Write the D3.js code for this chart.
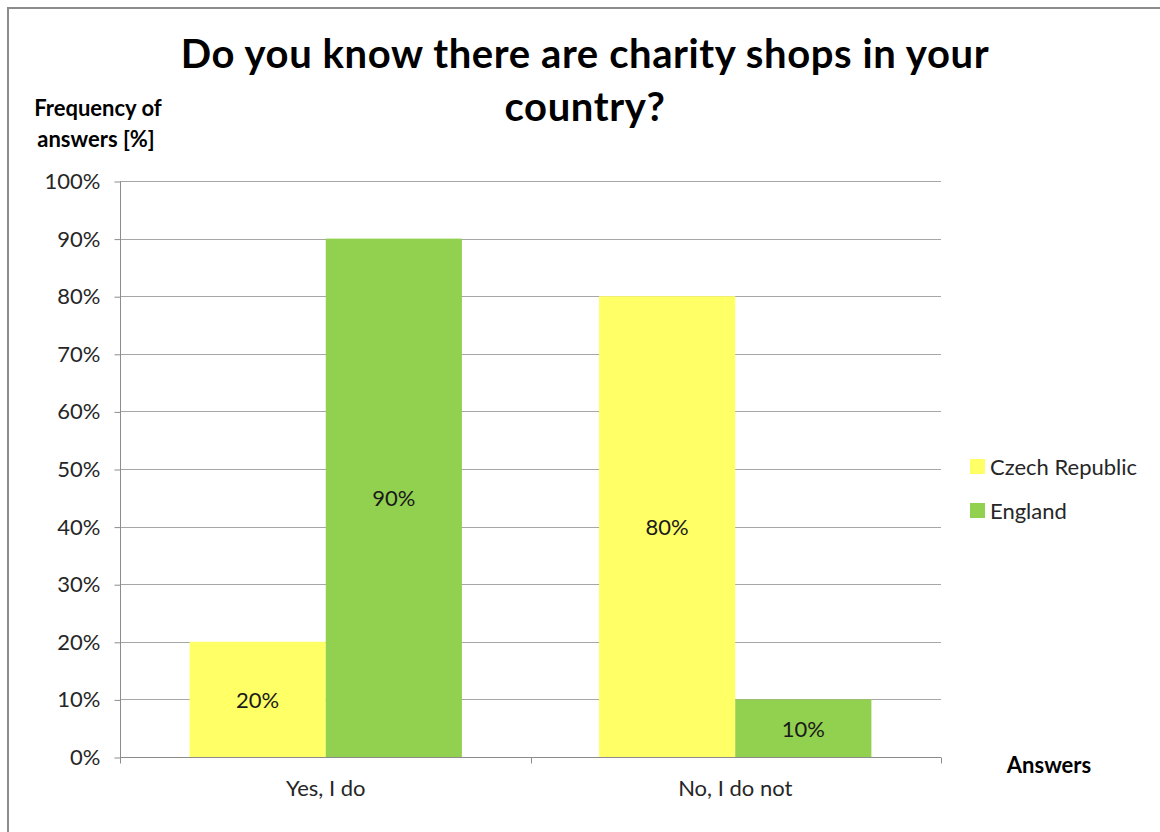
<!DOCTYPE html>
<html>
<head>
<meta charset="utf-8">
<script src="https://cdn.jsdelivr.net/npm/d3@7"></script>
<style>
  html, body { margin: 0; padding: 0; background: #fff; }
  svg { display: block; font-family: Lato, "Open Sans", "Noto Sans", sans-serif; }
</style>
</head>
<body>
<svg id="chart" width="1160" height="832"></svg>
<script>
// Survey: awareness of charity shops, share of answers per country
const categories = ["Yes, I do", "No, I do not"];
const seriesNames = ["Czech Republic", "England"];
const czechValues = [20, 80];
const englandValues = [90, 10];
const yTicks = [0, 10, 20, 30, 40, 50, 60, 70, 80, 90, 100];
const seriesColors = ["#FFFF66", "#92D050"];

const seriesValues = [czechValues, englandValues];
const rows = categories.map((c, i) => ({
  category: c,
  values: seriesNames.map((s, j) => ({ series: s, value: seriesValues[j][i], idx: j }))
}));

const svg = d3.select("#chart");
const plot = { left: 120, right: 941, top: 181, bottom: 757 };
const fs = 22;

// outer chart frame
svg.append("rect")
  .attr("x", 8).attr("y", 8)
  .attr("width", 1180).attr("height", 860)
  .attr("fill", "none").attr("stroke", "#8c8c8c").attr("stroke-width", 2);

const y = d3.scaleLinear().domain([0, 100]).range([plot.bottom, plot.top]);
const x0 = d3.scaleBand().domain(categories).range([plot.left, plot.right])
  .paddingInner(0.335).paddingOuter(0.17);
const x1 = d3.scaleBand().domain(seriesNames).range([0, x0.bandwidth()]);

// horizontal gridlines
svg.append("g").selectAll("line").data(yTicks.filter(t => t > 0)).join("line")
  .attr("x1", plot.left).attr("x2", plot.right)
  .attr("y1", d => Math.round(y(d)) + 0.5).attr("y2", d => Math.round(y(d)) + 0.5)
  .attr("stroke", "#a6a6a6").attr("stroke-width", 1);

// bars
const groups = svg.append("g").selectAll("g").data(rows).join("g")
  .attr("transform", d => `translate(${x0(d.category)},0)`);
groups.selectAll("rect").data(d => d.values).join("rect")
  .attr("x", d => x1(d.series))
  .attr("y", d => y(d.value))
  .attr("width", x1.bandwidth())
  .attr("height", d => y(0) - y(d.value))
  .attr("fill", d => seriesColors[d.idx]);

// value labels centred in each bar
groups.selectAll("text").data(d => d.values).join("text")
  .attr("x", d => x1(d.series) + x1.bandwidth() / 2)
  .attr("y", d => (y(d.value) + y(0)) / 2)
  .attr("text-anchor", "middle").attr("dominant-baseline", "central")
  .attr("font-size", fs).attr("fill", "#1a1a1a")
  .text(d => d.value + "%");

// y axis
const yAxis = d3.axisLeft(y).tickValues(yTicks).tickFormat(d => d + "%")
  .tickSize(6).tickPadding(14);
const gy = svg.append("g").attr("transform", `translate(${plot.left + 0.5},0.5)`).call(yAxis);
gy.select(".domain").attr("stroke", "#8c8c8c").attr("d", `M0,${plot.top}V${plot.bottom}`);
gy.selectAll(".tick line").attr("stroke", "#8c8c8c");
gy.selectAll(".tick text").attr("font-size", fs).attr("fill", "#262626")
  .attr("font-family", "Lato, 'Open Sans', sans-serif");

// x axis with ticks at category boundaries
const gx = svg.append("g").attr("transform", `translate(0,${plot.bottom + 0.5})`);
gx.append("line").attr("x1", plot.left).attr("x2", plot.right)
  .attr("stroke", "#8c8c8c");
const step = (plot.right - plot.left) / categories.length;
const boundaries = d3.range(categories.length + 1).map(i => plot.left + i * step);
gx.selectAll("line.tk").data(boundaries).join("line").attr("class", "tk")
  .attr("x1", d => Math.round(d) + 0.5).attr("x2", d => Math.round(d) + 0.5)
  .attr("y1", 0).attr("y2", 6).attr("stroke", "#8c8c8c");
gx.selectAll("text").data(categories).join("text")
  .attr("x", d => x0(d) + x0.bandwidth() / 2)
  .attr("y", 38)
  .attr("text-anchor", "middle")
  .attr("font-size", fs).attr("fill", "#262626")
  .text(d => d);

// title
const title = svg.append("text").attr("text-anchor", "middle")
  .attr("font-size", 40).attr("font-weight", "bold").attr("fill", "#000")
  .attr("letter-spacing", 0.6);
title.append("tspan").attr("x", 585).attr("y", 68).text("Do you know there are charity shops in your");
title.append("tspan").attr("x", 585).attr("y", 121).text("country?");

// axis titles
const yTitle = svg.append("text").attr("text-anchor", "middle")
  .attr("font-size", fs).attr("font-weight", "bold").attr("fill", "#000");
yTitle.append("tspan").attr("x", 98).attr("y", 116).text("Frequency of");
yTitle.append("tspan").attr("x", 96).attr("y", 147).text("answers [%]");

svg.append("text").attr("x", 1049).attr("y", 773).attr("text-anchor", "middle")
  .attr("font-size", fs).attr("font-weight", "bold").attr("fill", "#000")
  .text("Answers");

// legend
const legend = svg.append("g").selectAll("g").data(seriesNames).join("g")
  .attr("transform", (d, i) => `translate(970,${459 + i * 44})`);
legend.append("rect").attr("width", 15).attr("height", 15)
  .attr("fill", (d, i) => seriesColors[i]);
legend.append("text").attr("x", 20).attr("y", 7.5)
  .attr("dominant-baseline", "central")
  .attr("font-size", fs).attr("fill", "#262626")
  .text(d => d);
</script>
</body>
</html>
